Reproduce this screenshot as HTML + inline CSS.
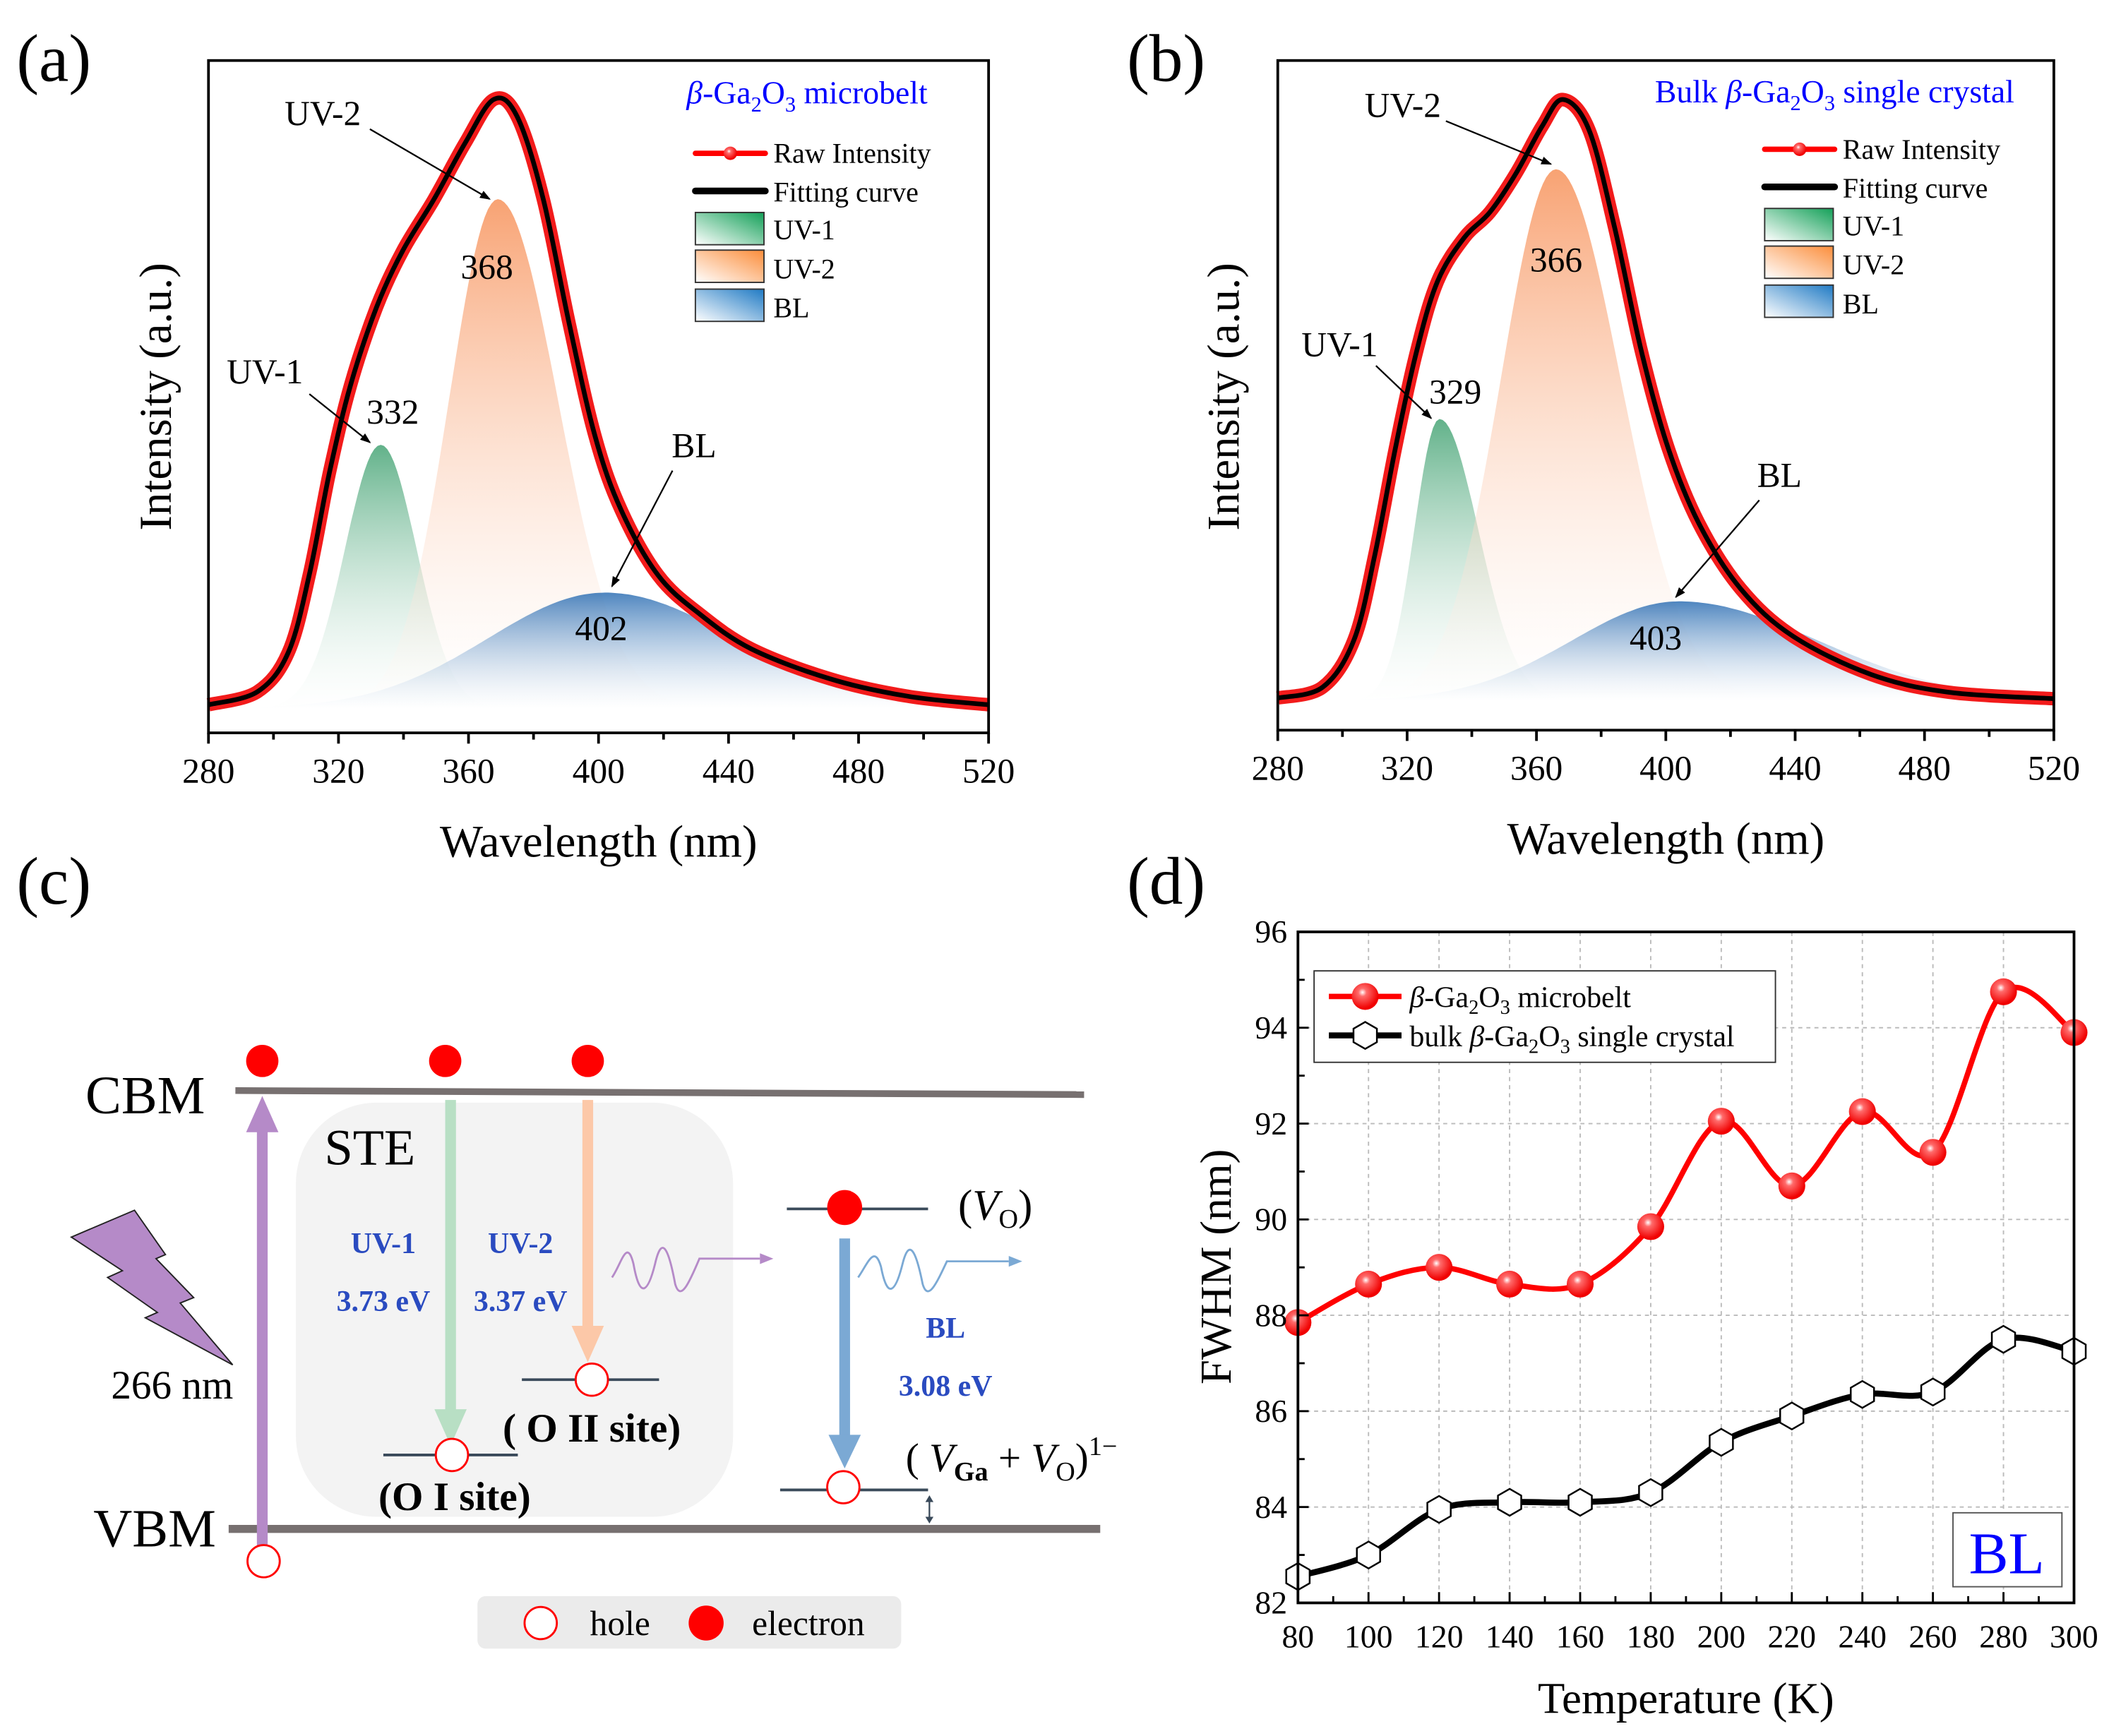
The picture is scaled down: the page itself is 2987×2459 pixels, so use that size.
<!DOCTYPE html>
<html><head><meta charset="utf-8">
<style>
html,body{margin:0;padding:0;background:#fff;}
svg{display:block;}
text{font-family:"Liberation Serif",serif;}
</style></head>
<body>
<svg id="fig" xmlns="http://www.w3.org/2000/svg" width="2987" height="2459" viewBox="0 0 1568 1291" preserveAspectRatio="none">
<defs>
<linearGradient id="gGreen" x1="0" y1="0" x2="0" y2="1"><stop offset="0" stop-color="#3a9e6c" stop-opacity="0.8"/><stop offset="1" stop-color="#ffffff" stop-opacity="0.2"/></linearGradient>
<linearGradient id="gOrange" x1="0" y1="0" x2="0" y2="1"><stop offset="0" stop-color="#f7925a" stop-opacity="0.85"/><stop offset="1" stop-color="#ffffff" stop-opacity="0.2"/></linearGradient>
<linearGradient id="gBlue" x1="0" y1="0" x2="0" y2="1"><stop offset="0" stop-color="#2f70b4" stop-opacity="0.85"/><stop offset="1" stop-color="#ffffff" stop-opacity="0.3"/></linearGradient>
<linearGradient id="lGreen" x1="0" y1="1" x2="1" y2="0"><stop offset="0" stop-color="#fff"/><stop offset="1" stop-color="#13a058"/></linearGradient>
<linearGradient id="lOrange" x1="0" y1="1" x2="1" y2="0"><stop offset="0" stop-color="#fff"/><stop offset="1" stop-color="#fb8d3a"/></linearGradient>
<linearGradient id="lBlue" x1="0" y1="1" x2="1" y2="0"><stop offset="0" stop-color="#fff"/><stop offset="1" stop-color="#1f7ac4"/></linearGradient>
<radialGradient id="ballRed" cx="0.4" cy="0.35" r="0.6"><stop offset="0" stop-color="#fff"/><stop offset="0.25" stop-color="#ff6b6b"/><stop offset="1" stop-color="#f00000"/></radialGradient>
<marker id="arrHead" markerWidth="8" markerHeight="8" refX="7" refY="4" orient="auto" markerUnits="userSpaceOnUse"><path d="M0,1 L8,4 L0,7 Z" fill="#000"/></marker>
</defs>

<text x="40" y="60" font-size="50" text-anchor="middle">(a)</text>
<text x="867" y="60" font-size="50" text-anchor="middle">(b)</text>
<text x="40" y="672" font-size="50" text-anchor="middle">(c)</text>
<text x="867" y="672" font-size="50" text-anchor="middle">(d)</text>

<g id="panelA"></g>
<g id="panelB"></g>

<g font-size="26">
<text x="240" y="93" text-anchor="middle">UV-2</text>
<line x1="275" y1="96" x2="364" y2="148" stroke="#000" stroke-width="1.2" marker-end="url(#arrHead)"/>
<text x="362" y="207" text-anchor="middle">368</text>
<text x="197" y="285" text-anchor="middle">UV-1</text>
<text x="292" y="315" text-anchor="middle">332</text>
<line x1="230" y1="293" x2="275" y2="329" stroke="#000" stroke-width="1.2" marker-end="url(#arrHead)"/>
<text x="516" y="340" text-anchor="middle">BL</text>
<line x1="500" y1="350" x2="455" y2="436" stroke="#000" stroke-width="1.2" marker-end="url(#arrHead)"/>
<text x="447" y="476" text-anchor="middle">402</text>
<text x="600" y="77" font-size="24" fill="#0000ff" text-anchor="middle"><tspan font-style="italic">β</tspan>-Ga<tspan font-size="16" dy="6">2</tspan><tspan dy="-6">O</tspan><tspan font-size="16" dy="6">3</tspan><tspan dy="-6"> microbelt</tspan></text>
</g>
<g font-size="21">
<line x1="517" y1="114" x2="569" y2="114" stroke="#f00" stroke-width="4" stroke-linecap="round"/><circle cx="543" cy="114" r="5" fill="url(#ballRed)"/>
<text x="575" y="121">Raw Intensity</text>
<line x1="517" y1="142" x2="569" y2="142" stroke="#000" stroke-width="5" stroke-linecap="round"/>
<text x="575" y="150">Fitting curve</text>
<rect x="517" y="158" width="51" height="24" fill="url(#lGreen)" stroke="#333"/><text x="575" y="178">UV-1</text>
<rect x="517" y="186" width="51" height="24" fill="url(#lOrange)" stroke="#333"/><text x="575" y="207">UV-2</text>
<rect x="517" y="215" width="51" height="24" fill="url(#lBlue)" stroke="#333"/><text x="575" y="236">BL</text>
</g>

<g font-size="26">
<text x="1043" y="87" text-anchor="middle">UV-2</text>
<line x1="1075" y1="90" x2="1153" y2="122" stroke="#000" stroke-width="1.2" marker-end="url(#arrHead)"/>
<text x="1157" y="202" text-anchor="middle">366</text>
<text x="996" y="265" text-anchor="middle">UV-1</text>
<text x="1082" y="300" text-anchor="middle">329</text>
<line x1="1023" y1="272" x2="1064" y2="311" stroke="#000" stroke-width="1.2" marker-end="url(#arrHead)"/>
<text x="1323" y="362" text-anchor="middle">BL</text>
<line x1="1308" y1="372" x2="1246" y2="444" stroke="#000" stroke-width="1.2" marker-end="url(#arrHead)"/>
<text x="1231" y="483" text-anchor="middle">403</text>
<text x="1364" y="76" font-size="24" fill="#0000ff" text-anchor="middle">Bulk <tspan font-style="italic">β</tspan>-Ga<tspan font-size="16" dy="6">2</tspan><tspan dy="-6">O</tspan><tspan font-size="16" dy="6">3</tspan><tspan dy="-6"> single crystal</tspan></text>
</g>
<g font-size="21">
<line x1="1312" y1="111" x2="1364" y2="111" stroke="#f00" stroke-width="4" stroke-linecap="round"/><circle cx="1338" cy="111" r="5" fill="url(#ballRed)"/>
<text x="1370" y="118">Raw Intensity</text>
<line x1="1312" y1="139" x2="1364" y2="139" stroke="#000" stroke-width="5" stroke-linecap="round"/>
<text x="1370" y="147">Fitting curve</text>
<rect x="1312" y="155" width="51" height="24" fill="url(#lGreen)" stroke="#333"/><text x="1370" y="175">UV-1</text>
<rect x="1312" y="183" width="51" height="24" fill="url(#lOrange)" stroke="#333"/><text x="1370" y="204">UV-2</text>
<rect x="1312" y="212" width="51" height="24" fill="url(#lBlue)" stroke="#333"/><text x="1370" y="233">BL</text>
</g>

<g>
<rect x="220" y="820" width="325" height="308" rx="60" fill="#f3f3f3"/>
<line x1="175" y1="811" x2="806" y2="814" stroke="#777070" stroke-width="5"/>
<line x1="170" y1="1137" x2="818" y2="1137" stroke="#777070" stroke-width="6"/>
<text x="108" y="828" font-size="40" text-anchor="middle">CBM</text>
<text x="115" y="1150" font-size="40" text-anchor="middle">VBM</text>
<text x="275" y="866" font-size="38" text-anchor="middle">STE</text>
<circle cx="195" cy="789" r="12" fill="#f00"/>
<circle cx="331" cy="789" r="12" fill="#f00"/>
<circle cx="437" cy="789" r="12" fill="#f00"/>
<rect x="191" y="840" width="8" height="318" fill="#b58ac8"/>
<path d="M183,842 L195,815 L207,842 Z" fill="#b58ac8"/>
<circle cx="196" cy="1161" r="12" fill="#fff" stroke="#f00" stroke-width="1.5"/>
<path d="M53,920 L100,900 L123,933 L116,936 L144,965 L134,969 L173,1015 L108,980 L117,976 L80,950 L91,945 Z" fill="#b58ac8" stroke="#222" stroke-width="1"/>
<text x="128" y="1040" font-size="30" text-anchor="middle">266 nm</text>
<rect x="331" y="818" width="8" height="232" fill="#b8dfc4"/>
<path d="M323,1048 L335,1075 L347,1048 Z" fill="#b8dfc4"/>
<rect x="433" y="818" width="8" height="170" fill="#fcc8a8"/>
<path d="M425,986 L437,1013 L449,986 Z" fill="#fcc8a8"/>
<g font-size="22" font-weight="bold" fill="#2a4bc0" text-anchor="middle">
<text x="285" y="932">UV-1</text>
<text x="285" y="975">3.73 eV</text>
<text x="387" y="932">UV-2</text>
<text x="387" y="975">3.37 eV</text>
<text x="703" y="995">BL</text>
<text x="703" y="1038">3.08 eV</text>
</g>
<line x1="388" y1="1026" x2="490" y2="1026" stroke="#3a4a5a" stroke-width="2"/>
<circle cx="440" cy="1026" r="12" fill="#fff" stroke="#f00" stroke-width="1.5"/>
<line x1="285" y1="1082" x2="385" y2="1082" stroke="#3a4a5a" stroke-width="2"/>
<circle cx="336" cy="1082" r="12" fill="#fff" stroke="#f00" stroke-width="1.5"/>
<text x="440" y="1072" font-size="30" font-weight="bold" text-anchor="middle">( O II site)</text>
<text x="338" y="1123" font-size="30" font-weight="bold" text-anchor="middle">(O I site)</text>
<path d="M455,950 C462,940 466,920 471,940 C476,968 482,960 487,940 C492,918 497,928 502,955 C506,968 512,955 520,936 L565,936" fill="none" stroke="#b58ac8" stroke-width="1.5"/>
<path d="M565,932 L575,936 L565,940 Z" fill="#b58ac8"/>
<line x1="585" y1="899" x2="690" y2="899" stroke="#3a4a5a" stroke-width="2"/>
<circle cx="628" cy="898" r="13" fill="#f00"/>
<text x="740" y="907" font-size="32" text-anchor="middle">(<tspan font-style="italic">V</tspan><tspan font-size="20" dy="6">O</tspan><tspan dy="-6">)</tspan></text>
<rect x="624" y="921" width="8" height="148" fill="#7ba9d4"/>
<path d="M616,1067 L628,1092 L640,1067 Z" fill="#7ba9d4"/>
<path d="M638,950 C645,940 650,925 655,942 C660,968 666,960 671,940 C676,920 681,930 686,955 C690,968 696,955 704,938 L750,938" fill="none" stroke="#7ba9d4" stroke-width="1.5"/>
<path d="M750,934 L760,938 L750,942 Z" fill="#7ba9d4"/>
<line x1="580" y1="1108" x2="690" y2="1108" stroke="#3a4a5a" stroke-width="2"/>
<circle cx="627" cy="1106" r="12" fill="#fff" stroke="#f00" stroke-width="1.5"/>
<text x="752" y="1094" font-size="30" text-anchor="middle">( <tspan font-style="italic">V</tspan><tspan font-size="20" dy="7" font-weight="bold">Ga</tspan><tspan dy="-7"> + </tspan><tspan font-style="italic">V</tspan><tspan font-size="20" dy="7">O</tspan><tspan dy="-7">)</tspan><tspan font-size="20" dy="-12">1−</tspan></text>
<line x1="691" y1="1114" x2="691" y2="1131" stroke="#3a4a5a" stroke-width="1.2"/>
<path d="M688,1117 L691,1112 L694,1117 Z M688,1128 L691,1133 L694,1128 Z" fill="#3a4a5a"/>
<rect x="355" y="1187" width="315" height="39" rx="6" fill="#ebebeb"/>
<circle cx="402" cy="1207" r="12" fill="#fff" stroke="#f00" stroke-width="1.5"/>
<text x="461" y="1216" font-size="26" text-anchor="middle">hole</text>
<circle cx="525" cy="1207" r="13" fill="#f00"/>
<text x="601" y="1216" font-size="26" text-anchor="middle">electron</text>
</g>

<g id="panelD"></g>
</svg>

<script>
const wlTicks = [280, 320, 360, 400, 440, 480, 520];
const peakNames = ['UV-1', 'UV-2', 'BL'];
const peakCentersA = [333, 369, 402];
const peakAmpsA = [0.407, 0.786, 0.179];
const peakSigmasLeftA = [11, 15, 36];
const peakSigmasRightA = [11, 18.5, 40];
const peakCentersB = [330, 366, 404];
const peakAmpsB = [0.44, 0.83, 0.155];
const peakSigmasLeftB = [7.8, 17, 33];
const peakSigmasRightB = [12, 20, 43];
const fitWlA = [280, 295, 304.5, 311, 317.3, 323.7, 331.7, 339.7, 349.4, 359, 367.8, 375, 383, 391, 399, 407, 418.3, 431.1, 447.1, 471.2, 495.2, 520];
const fitIntA = [0.006, 0.026, 0.086, 0.206, 0.366, 0.499, 0.619, 0.706, 0.786, 0.873, 0.940, 0.913, 0.786, 0.593, 0.419, 0.306, 0.206, 0.146, 0.092, 0.046, 0.019, 0.006];
const fitWlB = [280, 293.9, 303.6, 310.1, 316.5, 323, 329.4, 337.6, 345.6, 353.7, 361.8, 368.2, 376.3, 384.3, 392.4, 400.5, 410.2, 423.1, 439.2, 463.4, 487.5, 520];
const fitIntB = [0.004, 0.021, 0.095, 0.23, 0.398, 0.547, 0.655, 0.723, 0.763, 0.824, 0.898, 0.939, 0.891, 0.736, 0.547, 0.398, 0.277, 0.175, 0.101, 0.041, 0.013, 0.003];

const tempCats = [80, 100, 120, 140, 160, 180, 200, 220, 240, 260, 280, 300];
const fwhmMicrobelt = [87.85, 88.65, 89.0, 88.65, 88.65, 89.85, 92.05, 90.7, 92.25, 91.4, 94.75, 93.9];
const fwhmBulk = [82.55, 83.0, 83.95, 84.1, 84.1, 84.3, 85.35, 85.9, 86.35, 86.4, 87.5, 87.25];
const yTicksD = [82, 84, 86, 88, 90, 92, 94, 96];

const NS = 'http://www.w3.org/2000/svg';
function mk(tag, attrs, parent) {
  const e = document.createElementNS(NS, tag);
  for (const k in attrs) e.setAttribute(k, attrs[k]);
  if (parent) parent.appendChild(e);
  return e;
}
function gauss(x, c, a, sl, sr) { const s = x < c ? sl : sr; return a * Math.exp(-((x - c) * (x - c)) / (2 * s * s)); }
function catmull(pts) {
  let d = 'M' + pts[0][0].toFixed(1) + ',' + pts[0][1].toFixed(1);
  for (let i = 0; i < pts.length - 1; i++) {
    const p0 = pts[Math.max(0, i - 1)], p1 = pts[i], p2 = pts[i + 1], p3 = pts[Math.min(pts.length - 1, i + 2)];
    const c1 = [p1[0] + (p2[0] - p0[0]) / 6, p1[1] + (p2[1] - p0[1]) / 6];
    const c2 = [p2[0] - (p3[0] - p1[0]) / 6, p2[1] - (p3[1] - p1[1]) / 6];
    d += ' C' + c1[0].toFixed(1) + ',' + c1[1].toFixed(1) + ' ' + c2[0].toFixed(1) + ',' + c2[1].toFixed(1) + ' ' + p2[0].toFixed(1) + ',' + p2[1].toFixed(1);
  }
  return d;
}

function drawSpectrum(gid, box, centers, amps, sL, sR, fitWl, fitInt, tag) {
  const fillIds = ['gGreen', 'gOrange', 'gBlue'];
  const g = document.getElementById(gid);
  const xS = w => box.l + (w - 280) / 240 * (box.r - box.l);
  const yS = v => box.base - v * box.scale;
  for (let i = 0; i < centers.length; i++) {
    let d = 'M' + xS(280) + ',' + yS(0);
    for (let w = 280; w <= 520; w += 1) d += ' L' + xS(w).toFixed(1) + ',' + yS(gauss(w, centers[i], amps[i], sL[i], sR[i])).toFixed(1);
    d += ' L' + xS(520) + ',' + yS(0) + ' Z';
    const p = mk('path', { d: d, fill: 'url(#' + fillIds[i] + ')', stroke: 'none' }, g);
    
    
  }
  const pts = fitWl.map((w, i) => [xS(w), yS(fitInt[i])]);
  const d = catmull(pts);
  const raw = mk('path', { d: d, fill: 'none', stroke: '#f21b1b', 'stroke-width': 10, 'stroke-linejoin': 'round' }, g);
  
  
  const fit = mk('path', { d: d, fill: 'none', stroke: '#000', 'stroke-width': 3.5 }, g);
  
  
  const fr = mk('rect', { x: box.l, y: box.t, width: box.r - box.l, height: box.b - box.t, fill: 'none', stroke: '#000', 'stroke-width': 2 }, g);
  
  
  for (let w = 280; w <= 520; w += 20) {
    const major = wlTicks.indexOf(w) >= 0;
    mk('line', { x1: xS(w), y1: box.b, x2: xS(w), y2: box.b + (major ? 8 : 5), stroke: '#000', 'stroke-width': 2 }, g);
  }
  wlTicks.forEach(w => {
    const t = mk('text', { x: xS(w), y: box.b + 37, 'font-size': 26, 'text-anchor': 'middle' }, g);
    t.textContent = w;
    
    
  });
  const xl = mk('text', { x: (box.l + box.r) / 2, y: box.b + 92, 'font-size': 34, 'text-anchor': 'middle' }, g);
  xl.textContent = 'Wavelength (nm)';
  
  
  const yl = mk('text', { x: box.ylx, y: 295, 'font-size': 34, 'text-anchor': 'middle', transform: 'rotate(-90 ' + box.ylx + ' 295)' }, g);
  yl.textContent = 'Intensity (a.u.)';
  
  
}

drawSpectrum('panelA', { l: 155, r: 735, t: 45, b: 545, base: 527, scale: 482, ylx: 127 }, peakCentersA, peakAmpsA, peakSigmasLeftA, peakSigmasRightA, fitWlA, fitIntA, 'panel-a');
drawSpectrum('panelB', { l: 950, r: 1527, t: 45, b: 543, base: 521, scale: 476, ylx: 921 }, peakCentersB, peakAmpsB, peakSigmasLeftB, peakSigmasRightB, fitWlB, fitIntB, 'panel-b');

(function () {
  const g = document.getElementById('panelD');
  const L = 965, R = 1542, T = 693, B = 1192;
  const xS = t => L + (t - 80) / 220 * (R - L);
  const yS = v => B - (v - 82) / 14 * (B - T);
  tempCats.forEach(t => { if (t > 80 && t < 300) mk('line', { x1: xS(t), y1: T, x2: xS(t), y2: B, stroke: '#bbb', 'stroke-width': 1, 'stroke-dasharray': '3,3' }, g); });
  yTicksD.forEach(v => { if (v > 82 && v < 96) mk('line', { x1: L, y1: yS(v), x2: R, y2: yS(v), stroke: '#bbb', 'stroke-width': 1, 'stroke-dasharray': '3,3' }, g); });
  const smooth = vals => catmull(tempCats.map((t, i) => [xS(t), yS(vals[i])]));
  const lr = mk('path', { d: smooth(fwhmMicrobelt), fill: 'none', stroke: '#f00', 'stroke-width': 4 }, g);
  
  
  const lb = mk('path', { d: smooth(fwhmBulk), fill: 'none', stroke: '#000', 'stroke-width': 4.5 }, g);
  
  
  function hexPath(cx, cy, r) {
    let d = '';
    for (let k = 0; k < 6; k++) { const a = Math.PI / 6 + k * Math.PI / 3; d += (k ? 'L' : 'M') + (cx + r * Math.cos(a)).toFixed(1) + ',' + (cy + r * Math.sin(a)).toFixed(1); }
    return d + 'Z';
  }
  tempCats.forEach((t, i) => {
    const c = mk('circle', { cx: xS(t), cy: yS(fwhmMicrobelt[i]), r: 10, fill: 'url(#ballRed)' }, g);
    
    
    const h = mk('path', { d: hexPath(xS(t), yS(fwhmBulk[i]), 10), fill: '#fff', stroke: '#000', 'stroke-width': 1.3 }, g);
    
    
  });
  const fr = mk('rect', { x: L, y: T, width: R - L, height: B - T, fill: 'none', stroke: '#000', 'stroke-width': 2 }, g);
  
  
  for (let t = 80; t <= 300; t += 10) mk('line', { x1: xS(t), y1: B, x2: xS(t), y2: B - (t % 20 === 0 ? 8 : 5), stroke: '#000', 'stroke-width': 1.5 }, g);
  for (let v = 82; v <= 96; v += 1) mk('line', { x1: L, y1: yS(v), x2: L + (v % 2 === 0 ? 8 : 5), y2: yS(v), stroke: '#000', 'stroke-width': 1.5 }, g);
  tempCats.forEach(t => {
    const tx = mk('text', { x: xS(t), y: B + 33, 'font-size': 24, 'text-anchor': 'middle' }, g);
    tx.textContent = t;
    
    
  });
  yTicksD.forEach(v => {
    const ty = mk('text', { x: L - 8, y: yS(v) + 8, 'font-size': 24, 'text-anchor': 'end' }, g);
    ty.textContent = v;
    
    
  });
  const xl = mk('text', { x: (L + R) / 2, y: 1274, 'font-size': 33, 'text-anchor': 'middle' }, g);
  xl.textContent = 'Temperature (K)';
  
  
  const yl = mk('text', { x: 915, y: 942, 'font-size': 33, 'text-anchor': 'middle', transform: 'rotate(-90 915 942)' }, g);
  yl.textContent = 'FWHM (nm)';
  
  
  const lg = mk('g', {}, g);
  
  
  mk('rect', { x: 977, y: 722, width: 343, height: 68, fill: '#fff', stroke: '#333', 'stroke-width': 1 }, lg);
  mk('line', { x1: 988, y1: 741, x2: 1042, y2: 741, stroke: '#f00', 'stroke-width': 4 }, lg);
  mk('circle', { cx: 1015, cy: 741, r: 10, fill: 'url(#ballRed)' }, lg);
  const t1 = mk('text', { x: 1048, y: 749, 'font-size': 22 }, lg);
  t1.innerHTML = '<tspan font-style="italic">β</tspan>-Ga<tspan font-size="15" dy="5">2</tspan><tspan dy="-5">O</tspan><tspan font-size="15" dy="5">3</tspan><tspan dy="-5"> microbelt</tspan>';
  mk('line', { x1: 988, y1: 770, x2: 1042, y2: 770, stroke: '#000', 'stroke-width': 4.5 }, lg);
  mk('path', { d: hexPath(1015, 770, 10), fill: '#fff', stroke: '#000', 'stroke-width': 1.3 }, lg);
  const t2 = mk('text', { x: 1048, y: 778, 'font-size': 22 }, lg);
  t2.innerHTML = 'bulk <tspan font-style="italic">β</tspan>-Ga<tspan font-size="15" dy="5">2</tspan><tspan dy="-5">O</tspan><tspan font-size="15" dy="5">3</tspan><tspan dy="-5"> single crystal</tspan>';
  const bx = mk('rect', { x: 1452, y: 1125, width: 81, height: 55, fill: '#fff', stroke: '#555', 'stroke-width': 1 }, g);
  
  
  const bt = mk('text', { x: 1492, y: 1170, 'font-size': 44, fill: '#0000ff', 'text-anchor': 'middle' }, g);
  bt.textContent = 'BL';
  
  
})();
</script>
</body></html>
